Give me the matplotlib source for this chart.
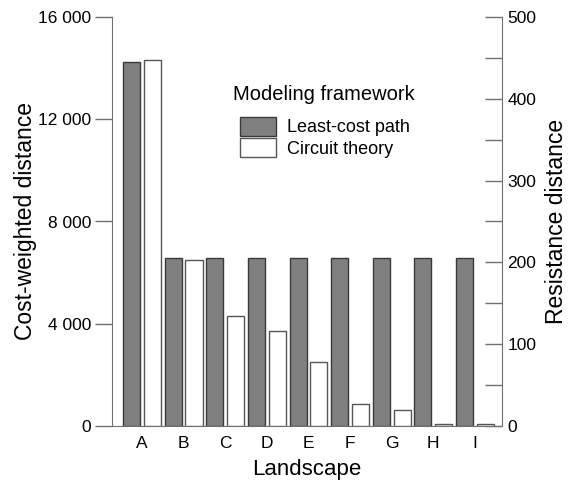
import matplotlib
matplotlib.use("Agg")
import matplotlib.pyplot as plt
import numpy as np
from matplotlib.patches import Patch

landscapes = ["A", "B", "C", "D", "E", "F", "G", "H", "I"]
least_cost = [14240, 6560, 6560, 6560, 6560, 6560, 6560, 6560, 6560]
circuit = [448, 203, 135, 116, 78, 27, 20, 3, 2]

plt.rcParams['font.family'] = ['Liberation Sans', 'DejaVu Sans']

W, H = 570, 490
fig = plt.figure(figsize=(W/100, H/100), dpi=100)
ax = fig.add_axes([112/W, 1-426/H, (502-112)/W, (426-17)/H])
ax2 = ax.twinx()

x = np.arange(len(landscapes))
w = 0.41
ax.bar(x - 0.25, least_cost, width=w, color="#808080", edgecolor="#3a3a3a", linewidth=1.0, zorder=2)
ax2.bar(x + 0.25, circuit, width=w, color="white", edgecolor="#555555", linewidth=1.0, zorder=2)

ax.set_xlim(-0.72, 8.65)
ax.set_ylim(0, 16000)
ax2.set_ylim(0, 500)

spc = "#707070"
for a in (ax, ax2):
    a.spines['top'].set_visible(False)
    for s in a.spines.values():
        s.set_color(spc)
ax.spines['right'].set_visible(False)
ax2.spines['left'].set_visible(False)
ax2.spines['bottom'].set_visible(False)

ax.set_yticks([0, 4000, 8000, 12000, 16000])
ax.set_yticklabels(["0", "4 000", "8 000", "12 000", "16 000"])
ax.tick_params(axis='y', direction='out', length=12, width=1, color=spc, labelsize=12.5, pad=3)
ax.set_xticks(x)
ax.set_xticklabels(landscapes)
ax.tick_params(axis='x', length=0, labelsize=12.5, pad=7)

ax2.set_yticks([0, 100, 200, 300, 400, 500])
ax2.set_yticks(np.arange(50, 500, 100), minor=True)
ax2.tick_params(axis='y', which='both', direction='in', length=12, width=1, color=spc, labelsize=12.5, pad=4)

ax.set_ylabel("Cost-weighted distance", fontsize=16.5, labelpad=1)
ax2.set_ylabel("Resistance distance", fontsize=16.5, labelpad=6)
ax.set_xlabel("Landscape", fontsize=16, labelpad=6)

handles = [Patch(facecolor="#808080", edgecolor="#3a3a3a", label="Least-cost path"),
           Patch(facecolor="white", edgecolor="#555555", label="Circuit theory")]
leg = fig.legend(handles=handles, loc="upper left",
                 bbox_to_anchor=(240/W, 1-117/H), frameon=False,
                 fontsize=13, handlelength=2.0, handleheight=1.2,
                 labelspacing=0.1, handletextpad=0.6, borderaxespad=0, borderpad=0)
fig.text(324/W, 1-95/H, "Modeling framework", fontsize=14.5, ha="center", va="center")

fig.savefig("out.png", dpi=100)
